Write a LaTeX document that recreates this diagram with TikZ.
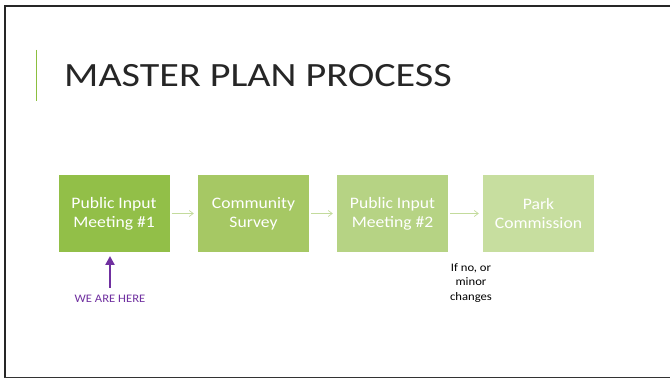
\documentclass[tikz,border=0pt]{standalone}
\usepackage{fontspec}
\setmainfont{Carlito}[FakeStretch=1.1]
\usetikzlibrary{arrows.meta}
\definecolor{gA}{HTML}{92BF48}
\definecolor{gB}{HTML}{A6C864}
\definecolor{gC}{HTML}{B6D384}
\definecolor{gD}{HTML}{C7DE9F}
\definecolor{conn}{HTML}{C3DB9C}
\definecolor{purp}{HTML}{7030A0}
\definecolor{accent}{HTML}{8CBF3F}
\tikzset{
  stage/.style={fill=#1, draw=none, minimum width=111pt, minimum height=77pt, inner sep=0pt,
    text=white, align=center, font=\fontsize{16}{19}\selectfont},
  flow/.style={draw=conn, line width=0.7pt, -{Straight Barb[length=4pt,width=6pt]}},
}
\begin{document}
\begin{tikzpicture}[x=1pt,y=-1pt]
\useasboundingbox (0,0) rectangle (670,379);
\fill[white] (0,0) rectangle (670,379);
% slide frame
\draw[line width=2.2pt, black!85] (5,377.5) -- (5,6) -- (671,6);
\draw[line width=1.6pt, black!80] (4,377.5) -- (671,377.5);
% accent bar
\draw[accent, line width=0.8pt] (36,50) -- (36,101);
\node[anchor=west, inner sep=0pt, font=\addfontfeature{FakeStretch=1.18}\fontsize{34}{40}\selectfont, text=black!85] (title) at (64,76) {MASTER PLAN PROCESS};
% stages
\node[stage=gA] (s1) at (114,213.5) {Public Input\\Meeting \#1};
\node[stage=gB] (s2) at (253.5,213.5) {Community\\Survey};
\node[stage=gC] (s3) at (392.5,213.5) {Public Input\\Meeting \#2};
\node[stage=gD] (s4) at (538.5,213.5) {Park\\Commission};
\draw[flow] ([xshift=2pt]s1.east) -- ([xshift=-4pt]s2.west);
\draw[flow] ([xshift=2pt]s2.east) -- ([xshift=-4pt]s3.west);
\draw[flow] ([xshift=2pt]s3.east) -- ([xshift=-4pt]s4.west);
% we are here
\node[text=purp, font=\fontsize{11.5}{13}\selectfont, inner sep=0pt] (here) at (110,299) {WE ARE HERE};
\coordinate (hereTip) at (110,256);
\draw[purp, line width=2.6pt, -{Triangle[length=9pt,width=9pt]}] (110,288) -- (hereTip);
\node[align=center, font=\fontsize{11.5}{14.5}\selectfont, inner sep=0pt] (note) at (471,283) {If no, or\\minor\\changes};
\end{tikzpicture}
\end{document}
